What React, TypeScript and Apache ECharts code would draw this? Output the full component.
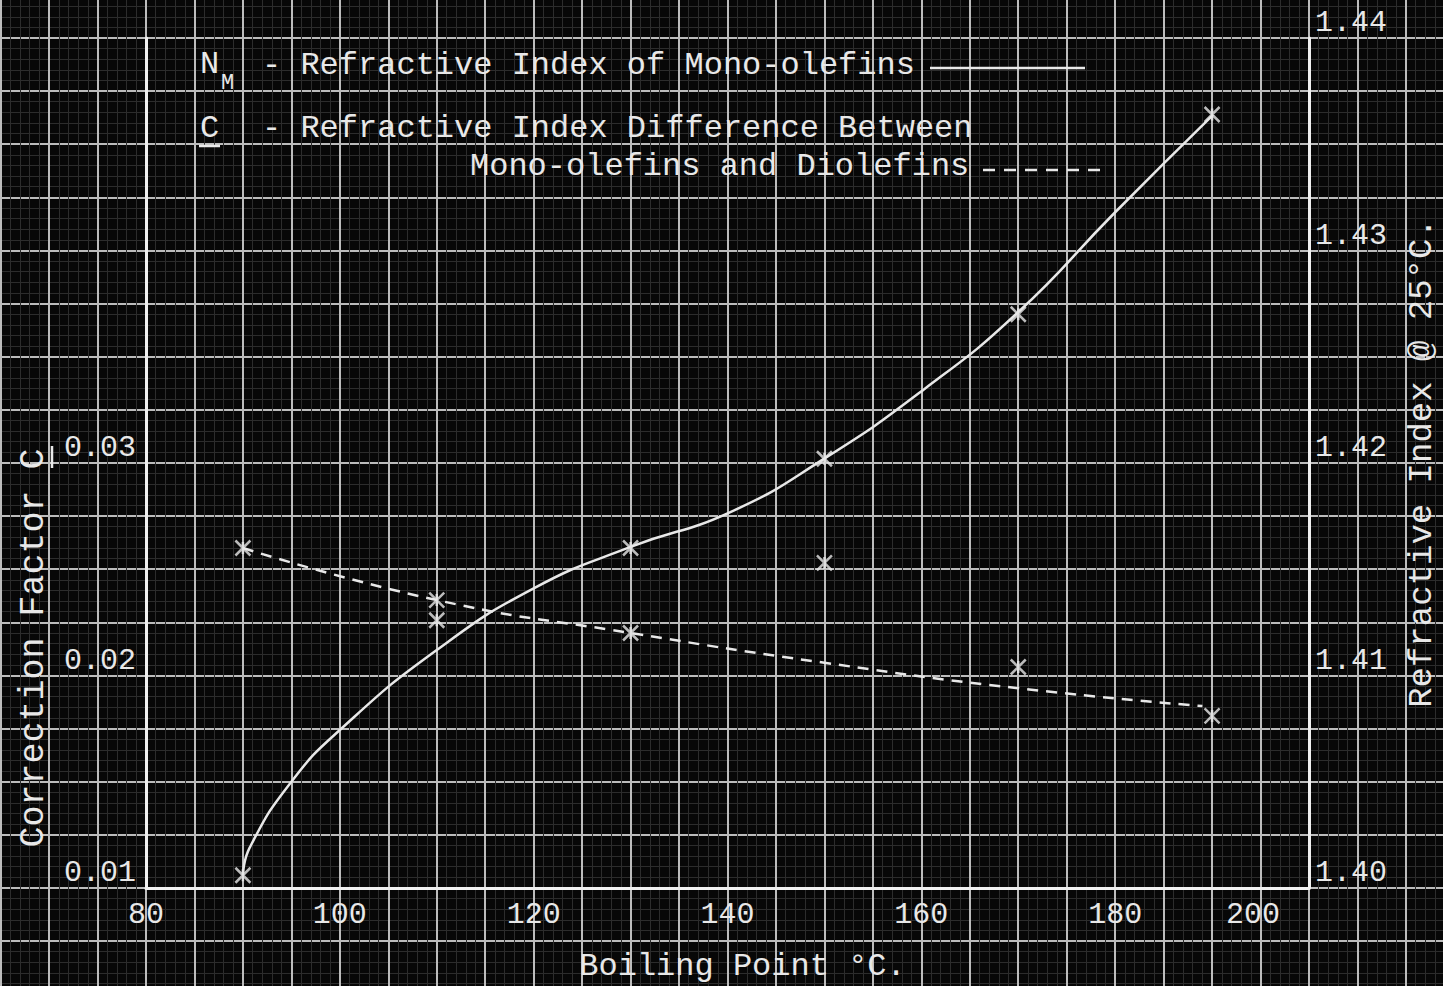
import React, { useEffect, useRef } from "react";
import * as echarts from "echarts";

// ---- data ----
const xTickValues = [80, 100, 120, 140, 160, 180, 200];
const leftTickLabels = ["0.01", "0.02", "0.03"];

// N_M : refractive index of mono-olefins (right axis) – drawn curve
const nmCurve: [number, number][] = [
  [90, 1.4006], [90.7, 1.4019], [95, 1.405], [100.2, 1.40752], [110, 1.4112],
  [120, 1.4141], [130, 1.41605], [140.3, 1.41769], [150.1, 1.42024], [160.2, 1.42344],
  [169.9, 1.42706], [180, 1.4318], [190.1, 1.43638],
];
// N_M : plotted points
const nmPoints: [number, number][] = [
  [90, 1.4006], [130, 1.416], [150, 1.4202], [170, 1.427], [190, 1.4364],
];
// C : refractive index difference (left axis) – dashed fitted curve
const cCurve: [number, number][] = [
  [90, 0.026], [110, 0.02355], [130, 0.022], [150, 0.0206], [170, 0.0194], [189, 0.01856],
];
// C : plotted points
const cPoints: [number, number][] = [
  [90, 0.026], [110, 0.02355], [110, 0.0226], [130, 0.022], [150, 0.0253],
  [170, 0.0204], [190, 0.0181],
];

const FONT = "'Liberation Mono', 'DejaVu Sans Mono', monospace";
const INK = "#e8e8e8";
const BG = "#070707";
const STAR = "path://M0,0L10,10M10,0L0,10M5,1L5,9";

function txt(text: string, x: number, y: number, size: number, extra: any = {}) {
  return {
    type: "text",
    x,
    y,
    z: 10,
    ...extra,
    style: {
      text,
      font: `${size}px ${FONT}`,
      fill: INK,
      align: extra.align || "left",
      textAlign: extra.align || "left",
      verticalAlign: "middle",
      textVerticalAlign: "middle",
      lineHeight: 28,
    },
  };
}

export default function App() {
  const ref = useRef<HTMLDivElement>(null);

  useEffect(() => {
    document.body.style.margin = "0";
    document.body.style.background = BG;
    const chart = echarts.init(ref.current!, null, { renderer: "svg" });

    const paperAxisCommon = {
      type: "value" as const,
      axisLine: { show: false },
      axisTick: { show: false },
      axisLabel: { show: false },
      splitLine: { show: true, lineStyle: { color: "#bcbcbc", width: 2 } },
      minorTick: { show: false, splitNumber: 5 },
      minorSplitLine: { show: true, lineStyle: { color: "#2c2c2c", width: 1 } },
      silent: true,
    };

    const labelStyle = { fontFamily: FONT, fontSize: 30, color: INK };
    const frameLine = { show: true, onZero: false, lineStyle: { color: "#f0f0f0", width: 3 } };

    chart.setOption({
      animation: false,
      backgroundColor: BG,
      grid: [
        { left: -47.8, right: -59.8, top: -15.125, bottom: -8.25, outerBoundsMode: "none", containLabel: false },
        { left: 146, right: 134, top: 38, bottom: 98, outerBoundsMode: "none", containLabel: false },
      ],
      xAxis: [
        { ...paperAxisCommon, gridIndex: 0, min: 60, max: 220, interval: 5 },
        {
          type: "value",
          gridIndex: 1,
          min: 80,
          max: 200,
          interval: 20,
          axisLine: frameLine,
          axisTick: { show: false },
          splitLine: { show: false },
          axisLabel: {
            ...labelStyle,
            margin: 12,
            formatter: (v: number) =>
              xTickValues.includes(v) ? (v === 200 ? "{s|200}" : String(v)) : "",
            rich: { s: { ...labelStyle, padding: [0, 112, 0, 0] } },
          },
          name: "Boiling Point °C.",
          nameLocation: "middle",
          nameGap: 62,
          nameMoveOverlap: false,
          nameTextStyle: { fontFamily: FONT, fontSize: 32, color: INK, padding: [0, 0, 0, 30] },
        },
      ],
      yAxis: [
        { ...paperAxisCommon, gridIndex: 0, min: 1.395, max: 1.4425, interval: 0.0025 },
        {
          type: "value",
          gridIndex: 1,
          position: "left",
          min: 0.01,
          max: 0.05,
          interval: 0.01,
          axisLine: frameLine,
          axisTick: { show: false },
          splitLine: { show: false },
          axisLabel: {
            ...labelStyle,
            margin: 10,
            verticalAlign: "bottom",
            formatter: (v: number) => {
              const s = v.toFixed(2);
              return leftTickLabels.includes(s) ? s : "";
            },
          },
        },
        {
          type: "value",
          gridIndex: 1,
          position: "right",
          min: 1.4,
          max: 1.44,
          interval: 0.01,
          axisLine: frameLine,
          axisTick: { show: false },
          splitLine: { show: false },
          axisLabel: {
            ...labelStyle,
            margin: 6,
            verticalAlign: "bottom",
            formatter: (v: number) => v.toFixed(2),
          },
          name: "Refractive Index @ 25°C.",
          nameLocation: "middle",
          nameGap: 96,
          nameMoveOverlap: false,
          nameTextStyle: { fontFamily: FONT, fontSize: 34, color: INK },
        },
      ],
      series: [
        {
          name: "N_M curve",
          type: "line",
          xAxisIndex: 1,
          yAxisIndex: 2,
          data: nmCurve,
          smooth: 0.5,
          showSymbol: false,
          lineStyle: { color: INK, width: 2.5 },
          silent: true,
        },
        {
          name: "N_M points",
          type: "scatter",
          xAxisIndex: 1,
          yAxisIndex: 2,
          data: nmPoints,
          symbol: STAR,
          symbolSize: 15,
          itemStyle: { color: "transparent", borderColor: INK, borderWidth: 2.5 },
        },
        {
          name: "C curve",
          type: "line",
          xAxisIndex: 1,
          yAxisIndex: 1,
          data: cCurve,
          smooth: 0.5,
          showSymbol: false,
          lineStyle: { color: INK, width: 2.5, type: [11, 8] },
          silent: true,
        },
        {
          name: "C points",
          type: "scatter",
          xAxisIndex: 1,
          yAxisIndex: 1,
          data: cPoints,
          symbol: STAR,
          symbolSize: 15,
          itemStyle: { color: "transparent", borderColor: INK, borderWidth: 2.5 },
        },
      ],
      graphic: [
        // legend block
        txt("N", 200, 64, 32),
        txt("M", 221, 83, 22),
        txt("- Refractive Index of Mono-olefins", 262, 65, 32),
        { type: "line", z: 10, shape: { x1: 930, y1: 68, x2: 1085, y2: 68 }, style: { stroke: INK, lineWidth: 2.5 } },
        txt("C", 200, 128, 32),
        { type: "line", z: 10, shape: { x1: 199, y1: 146, x2: 220, y2: 146 }, style: { stroke: INK, lineWidth: 2.5 } },
        txt("- Refractive Index Difference Between", 262, 128, 32),
        txt("Mono-olefins and Diolefins", 470, 166, 32),
        { type: "line", z: 10, shape: { x1: 983, y1: 170, x2: 1107, y2: 170 }, style: { stroke: INK, lineWidth: 2.5, lineDash: [12, 9] } },
        // left axis title (rotated, reads bottom to top)
        txt("Correction Factor C", 34, 648, 35, { rotation: Math.PI / 2, align: "center" }),
        { type: "line", z: 10, shape: { x1: 52, y1: 446, x2: 52, y2: 468 }, style: { stroke: INK, lineWidth: 2.5 } },
      ],
    });

    return () => chart.dispose();
  }, []);

  return (
    <div
      ref={ref}
      style={{ position: "fixed", left: 0, top: 0, width: 1443, height: 986, background: BG }}
    />
  );
}
